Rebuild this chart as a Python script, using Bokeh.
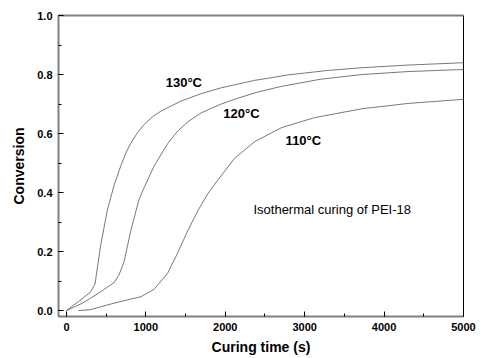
from bokeh.plotting import figure
from bokeh.models import Range1d, SingleIntervalTicker, LinearAxis, ColumnDataSource, PrintfTickFormatter
from bokeh.core.properties import value
from bokeh.embed import file_html
from bokeh.resources import INLINE

# Data
t130 = [0, 150, 300, 360, 430, 515, 600, 684, 750, 810, 900, 975, 1080, 1190, 1443, 1696, 1949, 2367, 2800, 3300, 3722, 4300, 5000]
c130 = [0, 0.03, 0.062, 0.09, 0.22, 0.34, 0.425, 0.49, 0.535, 0.567, 0.605, 0.630, 0.656, 0.676, 0.710, 0.735, 0.755, 0.780, 0.799, 0.814, 0.823, 0.832, 0.840]

t120 = [0, 200, 400, 600, 660, 725, 810, 911, 975, 1104, 1275, 1400, 1530, 1696, 1949, 2114, 2400, 2709, 3200, 3722, 4300, 5000]
c120 = [0, 0.025, 0.058, 0.095, 0.12, 0.165, 0.27, 0.374, 0.415, 0.49, 0.566, 0.608, 0.640, 0.670, 0.700, 0.716, 0.740, 0.760, 0.784, 0.800, 0.810, 0.817]

t110 = [150, 300, 500, 700, 937, 1104, 1275, 1400, 1530, 1658, 1785, 1900, 2114, 2367, 2709, 3127, 3722, 4300, 5000]
c110 = [0, 0.003, 0.018, 0.032, 0.047, 0.072, 0.127, 0.195, 0.272, 0.34, 0.398, 0.44, 0.515, 0.572, 0.620, 0.654, 0.684, 0.702, 0.716]

series_labels = ["130°C", "120°C", "110°C"]
label_t = [1250, 1975, 2760]
label_c = [0.772, 0.668, 0.577]

note_text = "Isothermal curing of PEI-18"
note_t = 2355
note_c = 0.343

x_label = "Curing time (s)"
y_label = "Conversion"

p = figure(width=480, height=358, output_backend="svg", toolbar_location=None,
           x_range=Range1d(-100, 5000), y_range=Range1d(-0.02, 1.0),
           min_border_left=58, min_border_top=15, min_border_right=17, min_border_bottom=42)
p.background_fill_color = "white"
p.border_fill_color = "white"
p.grid.visible = False
p.outline_line_color = "black"
p.outline_line_width = 1

line_color = "#606060"
for tt, cc in [(t130, c130), (t120, c120), (t110, c110)]:
    p.line(tt, cc, line_color=line_color, line_width=0.85)

src = ColumnDataSource(dict(x=label_t, y=label_c, text=series_labels))
p.text(x="x", y="y", text="text", source=src, text_font=value("Liberation Sans"),
       text_font_style="bold", text_font_size="13px", text_color="black",
       text_align="left", text_baseline="middle")

p.text(x=[note_t], y=[note_c], text=[note_text], text_font=value("Liberation Sans"),
       text_font_size="13px", text_color="black", text_align="left", text_baseline="middle")

axis_gray = "#808080"
for ax in (p.xaxis[0], p.yaxis[0]):
    ax.axis_line_color = axis_gray
    ax.axis_line_width = 2
    ax.major_tick_line_color = "black"
    ax.minor_tick_line_color = "black"
    ax.major_tick_in = 5
    ax.major_tick_out = 0
    ax.minor_tick_in = 3
    ax.minor_tick_out = 0
    ax.major_label_text_font = "Liberation Sans"
    ax.major_label_text_font_style = "bold"
    ax.major_label_text_font_size = "11px"
    ax.major_label_text_color = "black"
    ax.axis_label_text_font = "Liberation Sans"
    ax.axis_label_text_font_style = "bold"
    ax.axis_label_text_font_size = "14px"
    ax.axis_label_text_color = "black"

p.xaxis[0].ticker = SingleIntervalTicker(interval=1000, num_minor_ticks=2)
p.yaxis[0].ticker = SingleIntervalTicker(interval=0.2, num_minor_ticks=2)
p.yaxis[0].formatter = PrintfTickFormatter(format="%.1f")
p.xaxis[0].axis_label = x_label
p.yaxis[0].axis_label = y_label
p.xaxis[0].major_label_standoff = 6
p.xaxis[0].axis_label_standoff = 5
p.yaxis[0].major_label_standoff = 6
p.yaxis[0].axis_label_standoff = 7

top = LinearAxis(ticker=SingleIntervalTicker(interval=1000, num_minor_ticks=0))
top.axis_line_color = axis_gray
top.axis_line_width = 2
top.major_tick_line_color = None
top.minor_tick_line_color = None
top.major_label_text_font_size = "0px"
top.major_label_text_color = None
top.major_label_standoff = 0
p.add_layout(top, "above")

open("out.html", "w").write(file_html(p, INLINE))
